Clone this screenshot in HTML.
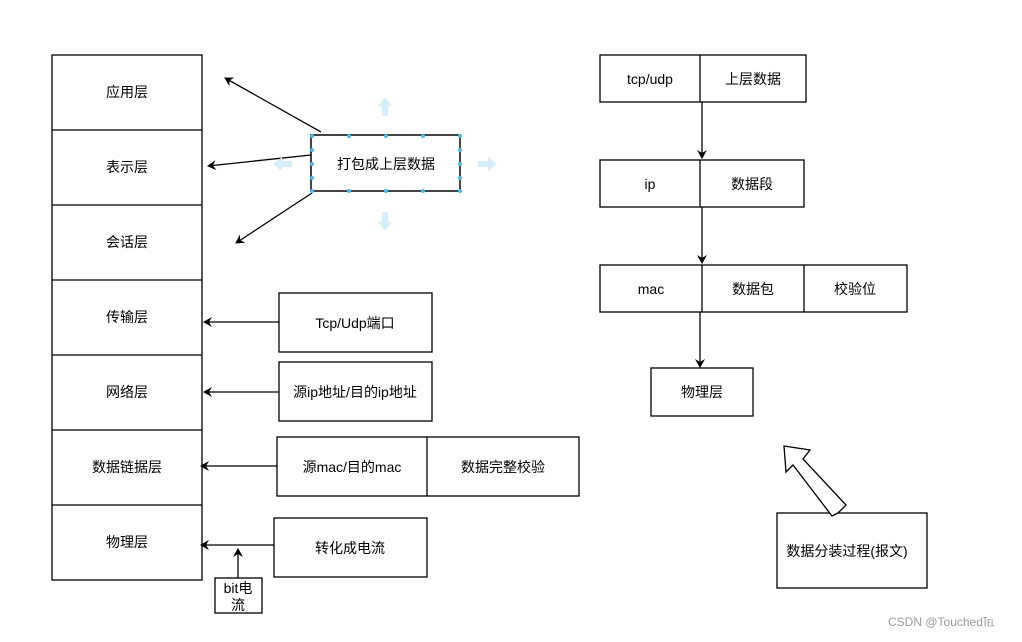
<!DOCTYPE html><html><head><meta charset="utf-8"><style>body{margin:0;background:#fff}svg text{font-family:"Liberation Sans","Noto Sans CJK SC",sans-serif;font-size:14px;fill:#000}</style></head><body>
<svg width="1022" height="637" xmlns="http://www.w3.org/2000/svg">
<defs><marker id="a" markerWidth="10" markerHeight="10" refX="8" refY="5" orient="auto" markerUnits="userSpaceOnUse"><path d="M0,0 L9,5 L0,10 L3,5z" fill="#000"/></marker></defs>
<g fill="#fff" stroke="#000" stroke-width="1.3">
<rect x="52" y="55" width="150" height="525"/>
<path d="M52 130H202M52 205H202M52 280H202M52 355H202M52 430H202M52 505H202"/>
<rect x="311" y="135" width="149" height="56" stroke="#444" stroke-width="2"/>
<rect x="279" y="293" width="153" height="59"/>
<rect x="279" y="362" width="153" height="59"/>
<rect x="277" y="437" width="302" height="59"/><path d="M427 437V496"/>
<rect x="274" y="518" width="153" height="59"/>
<rect x="215" y="578" width="47" height="35"/>
<rect x="600" y="55" width="206" height="47"/><path d="M700 55V102"/>
<rect x="600" y="160" width="204" height="47"/><path d="M700 160V207"/>
<rect x="600" y="265" width="307" height="47"/><path d="M702 265V312M804 265V312"/>
<rect x="651" y="368" width="102" height="48"/>
<rect x="777" y="513" width="150" height="75"/>
<path d="M838 513 L846 505 L803 459 L810 450 L784 446 L786 472 L793 465 L832 516z" stroke-width="1.3"/>
</g>
<g stroke="#000" stroke-width="1.3" fill="none" marker-end="url(#a)">
<path d="M321 132L225 78"/><path d="M311 155L208 166"/><path d="M312 193L236 243"/>
<path d="M279 322H204"/><path d="M279 392H204"/><path d="M277 466H201"/><path d="M274 545H201"/><path d="M238 578V549"/>
<path d="M702 102V158"/><path d="M702 207V263"/><path d="M700 312V367"/>
</g>
<g fill="#d6eefb">
<path d="M385 97l-7 9h4v10h6v-10h4z"/><path d="M385 231l-7-9h4v-10h6v10h4z"/>
<path d="M497 164l-9-7v4h-10v6h10v4z"/><path d="M273 164l9-7v4h10v6h-10v4z"/>
</g>
<g fill="#4fb8e8" font-size="8">
<circle cx="312" cy="136" r="2"/><circle cx="349" cy="136" r="2"/><circle cx="386" cy="136" r="2"/><circle cx="423" cy="136" r="2"/><circle cx="460" cy="136" r="2"/>
<circle cx="312" cy="191" r="2"/><circle cx="349" cy="191" r="2"/><circle cx="386" cy="191" r="2"/><circle cx="423" cy="191" r="2"/><circle cx="460" cy="191" r="2"/>
<circle cx="312" cy="150" r="2"/><circle cx="312" cy="164" r="2"/><circle cx="312" cy="178" r="2"/>
<circle cx="460" cy="150" r="2"/><circle cx="460" cy="164" r="2"/><circle cx="460" cy="178" r="2"/>
</g>
<g text-anchor="middle">
<text x="127" y="97">应用层</text><text x="127" y="172">表示层</text><text x="127" y="247">会话层</text><text x="127" y="322">传输层</text><text x="127" y="397">网络层</text><text x="127" y="472">数据链据层</text><text x="127" y="547">物理层</text>
<text x="386" y="169">打包成上层数据</text>
<text x="355" y="328">Tcp/Udp端口</text><text x="355" y="397">源ip地址/目的ip地址</text>
<text x="352" y="472">源mac/目的mac</text><text x="503" y="472">数据完整校验</text>
<text x="350" y="553">转化成电流</text>
<text x="238" y="593">bit电</text><text x="238" y="610">流</text>
<text x="650" y="84">tcp/udp</text><text x="753" y="84">上层数据</text>
<text x="650" y="189">ip</text><text x="752" y="189">数据段</text>
<text x="651" y="294">mac</text><text x="753" y="294">数据包</text><text x="855" y="294">校验位</text>
<text x="702" y="397">物理层</text>
<text x="847" y="556">数据分装过程(报文)</text>
</g>
<text x="888" y="626" style="font-size:12px;fill:#999">CSDN @Touched℡</text>
</svg></body></html>
